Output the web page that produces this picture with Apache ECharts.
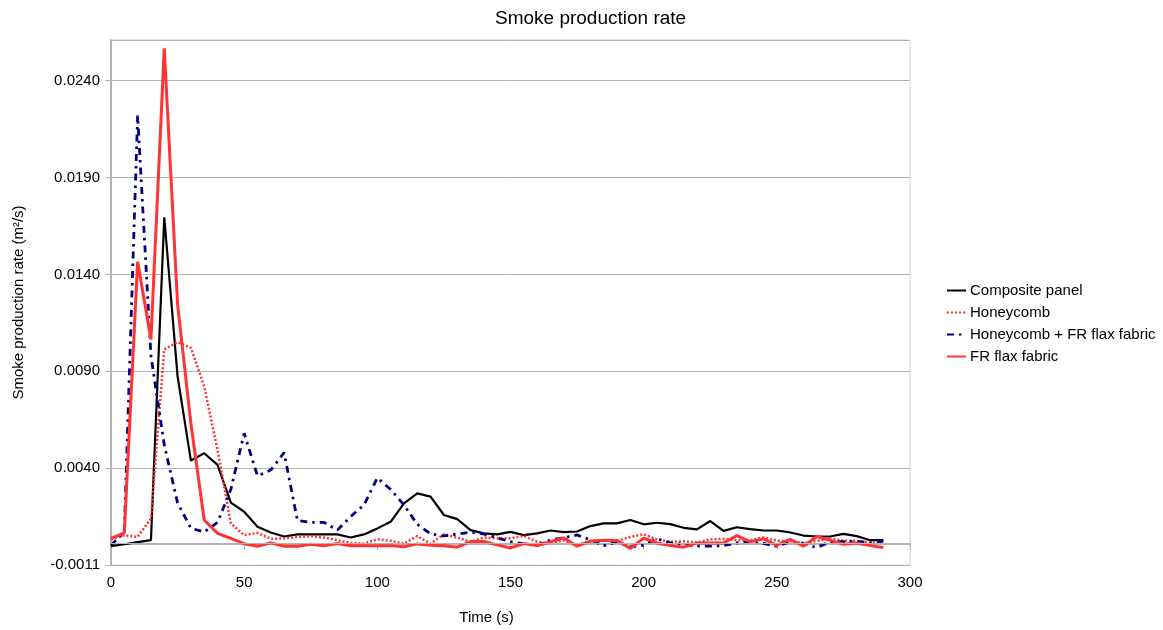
<!DOCTYPE html>
<html>
<head>
<meta charset="utf-8">
<title>Smoke production rate</title>
<script src="https://cdn.jsdelivr.net/npm/echarts@6/dist/echarts.min.js"></script>
<style>
  html, body { margin: 0; padding: 0; background: #fff; }
  #chart { width: 1163px; height: 630px; }
</style>
</head>
<body>
<div id="chart"></div>
<script>
// time (s)
var times = [0, 5, 10, 15, 20, 25, 30, 35, 40, 45, 50, 55, 60, 65, 70, 75, 80, 85, 90, 95,
  100, 105, 110, 115, 120, 125, 130, 135, 140, 145, 150, 155, 160, 165, 170, 175, 180, 185, 190, 195,
  200, 205, 210, 215, 220, 225, 230, 235, 240, 245, 250, 255, 260, 265, 270, 275, 280, 285, 290]

// smoke production rate (m2/s)
var compositePanel = [-0.00013, -0.00003, 0.00008, 0.00018, 0.01685, 0.00864, 0.00429, 0.00467, 0.00407, 0.00212,
  0.00165, 0.00087, 0.00058, 0.00037, 0.00048, 0.00048, 0.00048, 0.00048, 0.00032, 0.00048,
  0.00079, 0.00113, 0.00208, 0.0026, 0.00243, 0.00148, 0.00127, 0.0007, 0.00053, 0.00048,
  0.00061, 0.00044, 0.00053, 0.00068, 0.0006, 0.00063, 0.00091, 0.00105, 0.00105, 0.00122,
  0.001, 0.00108, 0.00101, 0.00082, 0.00074, 0.00117, 0.00066, 0.00085, 0.00075, 0.00068,
  0.00068, 0.00058, 0.00042, 0.00037, 0.00037, 0.00051, 0.00039, 0.00018, 0.00018]

var honeycomb = [0.00022, 0.00044, 0.00035, 0.0013, 0.01003, 0.01040, 0.01011, 0.00812, 0.00484, 0.00105,
  0.00044, 0.00056, 0.00025, 0.00027, 0.00035, 0.00039, 0.00032, 0.00018, 0.00004, 0.00001,
  0.00023, 0.00015, 0.00001, 0.00039, 0.0, 0.00049, 0.00032, 0.00009, 0.00032, 0.00028,
  0.00028, 0.0004, 0.0001, 0.00001, 0.00018, -0.00008, 0.00015, 0.00018, 0.00015, 0.00035,
  0.00049, 0.00022, 0.0001, 0.00013, 0.00006, 0.00022, 0.00025, 0.00018, 0.00018, 0.00032,
  0.00015, 0.00013, 0.00004, 0.00013, 0.00027, 0.00015, 0.00015, 0.00004, 0.00015]

var honeycombFlax = [-0.00008, 0.0006, 0.0221, 0.0097, 0.0051, 0.0021, 0.0008, 0.0006, 0.0011, 0.0028,
  0.0057, 0.0035, 0.0038, 0.0047, 0.0012, 0.0011, 0.0011, 0.0007, 0.0014, 0.002,
  0.0034, 0.0028, 0.002, 0.001, 0.0005, 0.0004, 0.0005, 0.0006, 0.0005, 0.0003,
  0.0001, 0.0, -0.0001, 0.0002, 0.0003, 0.00045, 0.0002, -0.0001, 0.0001, -0.00016,
  -0.00008, 0.00025, 0.00004, -0.00003, -0.00013, -0.00013, -0.0001, 0.00004, 0.0001, 0.00001,
  -0.00013, 0.0001, 0.0, -0.0002, 0.0001, 0.0001, 0.00013, 0.00004, 0.00013]

var frFlaxFabric = [0.00027, 0.00056, 0.01455, 0.01054, 0.02557, 0.01235, 0.0062, 0.00122, 0.00053, 0.00027,
  0.0, -0.00013, 0.00004, -0.00013, -0.00013, -0.00003, -0.00011, 0.00001, -0.00011, -0.00011,
  -0.0001, -0.0001, -0.00016, -0.00001, -0.00008, -0.00011, -0.00018, 0.00011, 0.00011, -0.00006,
  -0.00022, 0.00001, -0.0001, 0.0001, 0.0003, -0.00013, 0.00013, 0.00018, 0.00017, -0.00025,
  0.00029, 0.00004, -0.0001, -0.00018, 0.00003, 0.00003, 0.00004, 0.00042, 0.0001, 0.00025,
  -0.00008, 0.00022, -0.00013, 0.00037, 0.00018, -0.00003, 0.00003, -0.0001, -0.0002]

// axis tick labels as printed on the original
var yTickLabels = ['-0.0011', '0.0040', '0.0090', '0.0140', '0.0190', '0.0240']
var yMin = -0.0011
var yStep = 0.005

function pairs(values) {
  return times.map(function (t, i) { return [t, values[i]] })
}

var chart = echarts.init(document.getElementById('chart'))
var font = 'Liberation Sans, Arial, sans-serif'

chart.setOption({
  animation: false,
  backgroundColor: '#fff',
  textStyle: { fontFamily: font },
  title: {
    text: 'Smoke production rate',
    left: 490,
    top: 4,
    textStyle: { fontSize: 19, fontWeight: 'normal', color: '#000', fontFamily: font }
  },
  legend: {
    orient: 'vertical',
    left: 941,
    top: 278,
    itemWidth: 19,
    itemHeight: 14,
    itemGap: 7,
    itemStyle: { opacity: 0 }, // line only, no marker
    textStyle: { fontSize: 15, color: '#000', lineHeight: 15, fontFamily: font, padding: [0, 0, 0, -1] },
    data: ['Composite panel', 'Honeycomb', 'Honeycomb + FR flax fabric', 'FR flax fabric']
  },
  grid: {
    left: 111,
    right: 253,
    top: 40,
    bottom: 64,
    show: true,
    borderColor: '#d4d4d4',
    borderWidth: 1
  },
  xAxis: {
    type: 'value',
    min: 0,
    max: 300,
    interval: 50,
    name: 'Time (s)',
    nameLocation: 'middle',
    nameGap: 45,
    nameTextStyle: { fontSize: 15, color: '#000', padding: [0, 48, 0, 0] },
    axisLine: { show: true, lineStyle: { color: '#b3b3b3', width: 2 } },
    axisTick: { show: true, length: 6, lineStyle: { color: '#b3b3b3' } },
    axisLabel: { fontSize: 15, color: '#000', margin: 10 },
    splitLine: { show: false }
  },
  yAxis: {
    type: 'value',
    min: yMin,
    max: 0.026,
    interval: yStep,
    name: 'Smoke production rate (m²/s)',
    nameLocation: 'middle',
    nameGap: 85,
    nameTextStyle: { fontSize: 15, color: '#000' },
    axisLine: { show: true, lineStyle: { color: '#b3b3b3', width: 2 } },
    axisTick: { show: true, length: 6, lineStyle: { color: '#b3b3b3' } },
    axisLabel: {
      fontSize: 15,
      color: '#000',
      margin: 11,
      showMaxLabel: false,
      formatter: function (value) {
        var idx = Math.round((value - yMin) / yStep)
        if (Math.abs(value - (yMin + idx * yStep)) > 1e-7) return ''
        return yTickLabels[idx] || ''
      }
    },
    splitLine: { show: true, lineStyle: { color: '#b3b3b3', width: 1 } }
  },
  series: [
    {
      name: 'Composite panel',
      type: 'line',
      symbol: 'none',
      color: '#000000',
      lineStyle: { color: '#000000', width: 2.2 },
      data: pairs(compositePanel),
      // zero line of the original chart
      markLine: {
        silent: true,
        symbol: 'none',
        label: { show: false },
        lineStyle: { color: '#b3b3b3', width: 1, type: 'solid' },
        data: [{ yAxis: 0 }]
      }
    },
    {
      name: 'Honeycomb',
      type: 'line',
      symbol: 'none',
      color: '#ff3333',
      lineStyle: { color: '#ff3333', width: 2.5, type: [2, 2] },
      data: pairs(honeycomb)
    },
    {
      name: 'Honeycomb + FR flax fabric',
      type: 'line',
      symbol: 'none',
      color: '#000080',
      lineStyle: { color: '#000080', width: 2.8, type: [7, 5, 2.5, 5] },
      data: pairs(honeycombFlax)
    },
    {
      name: 'FR flax fabric',
      type: 'line',
      symbol: 'none',
      color: '#ff3333',
      lineStyle: { color: '#ff3333', width: 3 },
      data: pairs(frFlaxFabric)
    }
  ]
})
</script>
</body>
</html>
